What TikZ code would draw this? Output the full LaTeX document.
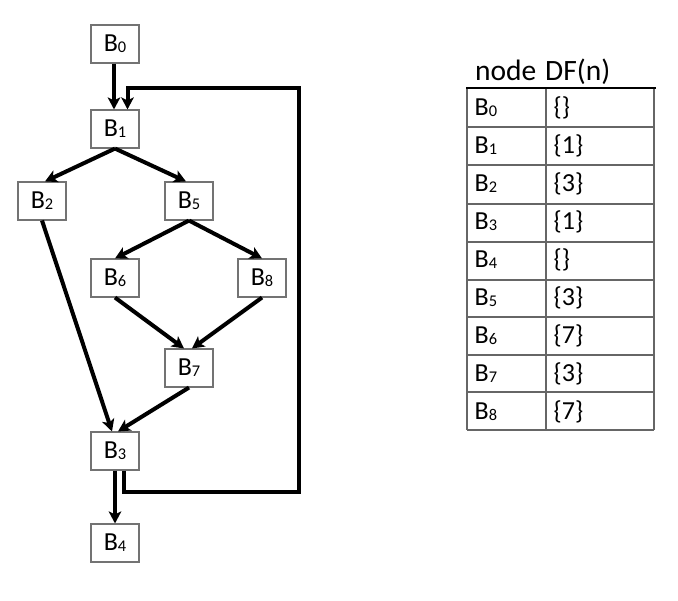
\documentclass[tikz,border=0pt]{standalone}
\usepackage{fontspec}
\usepackage{graphicx}
\setmainfont{Carlito}
\usetikzlibrary{arrows.meta}
\newcommand{\sbs}[1]{\raisebox{-0.05em}{\scalebox{0.63}{#1}}}
\begin{document}
\begin{tikzpicture}[x=1pt,y=-1pt,
  blk/.style={draw=gray!90!black,line width=1.1pt,fill=white,minimum width=48pt,minimum height=38pt,inner sep=0pt,font=\fontsize{26}{28}\selectfont},
  arr/.style={line width=4pt,-{Stealth[length=12pt,width=12.5pt,inset=3pt]}},
  cell/.style={anchor=west,inner sep=0pt,font=\fontsize{26}{28}\selectfont},
  hdr/.style={anchor=base west,inner sep=0pt,font=\fontsize{29.5}{31}\selectfont},
  grid/.style={draw=gray!80!black,line width=1.3pt}]
\useasboundingbox (0,0) rectangle (678,601);
% graph nodes
\node[blk] (B0) at (115,44) {B\sbs{0}};
\node[blk] (B1) at (115,129) {B\sbs{1}};
\node[blk] (B2) at (42,201) {B\sbs{2}};
\node[blk] (B5) at (189,201) {B\sbs{5}};
\node[blk] (B6) at (115,278) {B\sbs{6}};
\node[blk] (B8) at (262,278) {B\sbs{8}};
\node[blk] (B7) at (189,368) {B\sbs{7}};
\node[blk] (B3) at (115,451) {B\sbs{3}};
\node[blk] (B4) at (115,543) {B\sbs{4}};
% edges
\draw[arr] ([xshift=-1]B0.south) -- ([xshift=-1]B1.north);
\draw[arr] (B1.south) -- ([xshift=3]B2.north);
\draw[arr] (B1.south) -- ([xshift=-3]B5.north);
\draw[arr] (B5.south) -- (B6.north);
\draw[arr] (B5.south) -- (B8.north);
\draw[arr] (B6.south) -- ([xshift=-5]B7.north);
\draw[arr] (B8.south) -- ([xshift=3]B7.north);
\draw[arr] (B2.south) -- ([xshift=-3]B3.north);
\draw[arr] (B7.south) -- ([xshift=3]B3.north);
\draw[arr] (B3.south) -- (B4.north);
\coordinate (lb) at (299,492);
\coordinate (lt) at (299,88);
\draw[arr] ([xshift=9]B3.south) |- (lb) -- (lt) -| ([xshift=12.5]B1.north);
% table
\node[hdr] (h1) at (475,80.5) {node};
\node[hdr] (h2) at (545,80.5) {DF(n)};
\foreach \y in {127,165,204,242,280,317,355,392,430}
  \draw[grid] (467,\y) -- (654,\y);
\draw[grid] (467,88) -- (467,430);
\draw[grid] (546,88) -- (546,430);
\draw[grid] (654,88) -- (654,430);
\draw[line width=2.8pt] (466,88) -- (656,88);
\foreach \n/\v [count=\i from 0] in {0/\{\},1/\{1\},2/\{3\},3/\{1\},4/\{\},5/\{3\},6/\{7\},7/\{3\},8/\{7\}}{
  \node[cell] (r\i) at (474.5,{107.5+38*\i}) {B\sbs{\n}};
  \node[cell] (d\i) at (553.5,{107.5+38*\i}) {\v};
}
\end{tikzpicture}
\end{document}
